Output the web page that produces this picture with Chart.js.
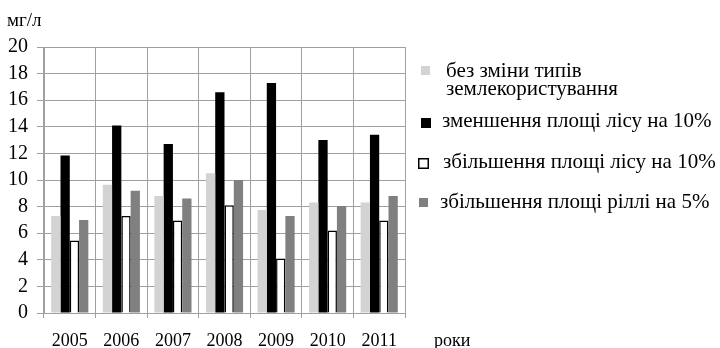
<!DOCTYPE html>
<html lang="uk">
<head>
<meta charset="utf-8">
<title>Концентрація, мг/л</title>
<script src="https://cdn.jsdelivr.net/npm/chart.js@4.4.1/dist/chart.umd.min.js"></script>
<style>
  html, body { margin: 0; padding: 0; background: #ffffff; }
  #wrap { width: 720px; height: 348px; position: relative; }
</style>
</head>
<body>
<div id="wrap"><canvas id="chart" width="720" height="348"></canvas></div>
<script>
// Роки спостережень
const years = ['2005', '2006', '2007', '2008', '2009', '2010', '2011'];

// Сценарії землекористування, мг/л
const noChange      = [7.3, 9.65, 8.8, 10.5, 7.75, 8.3, 8.3];
const forestMinus10 = [11.85, 14.1, 12.7, 16.6, 17.3, 13.0, 13.4];
const forestPlus10  = [5.45, 7.3, 6.95, 8.1, 4.1, 6.2, 6.95];
const arablePlus5   = [7.0, 9.2, 8.6, 10.0, 7.3, 8.05, 8.8];

const seriesNames = [
  ['без зміни типів', 'землекористування'],
  ['зменшення площі лісу на 10%'],
  ['збільшення площі лісу на 10%'],
  ['збільшення площі ріллі на 5%']
];

const unitLabel = 'мг/л';
const axisXLabel = 'роки';

const SERIF = '"Liberation Serif", "DejaVu Serif", serif';
const GRID = '#a0a0a0';

// Підписи осей та легенда малюються поверх області графіка
const annotations = {
  id: 'annotations',
  afterDraw(chart) {
    const ctx = chart.ctx;
    ctx.save();
    ctx.fillStyle = '#000';
    ctx.textBaseline = 'alphabetic';
    ctx.textAlign = 'left';

    ctx.font = '19px ' + SERIF;
    ctx.fillText(unitLabel, 7, 26);
    ctx.font = '18px ' + SERIF;
    ctx.fillText(axisXLabel, 434, 346);

    // легенда
    const items = [
      { box: [421, 66], size: 9, text: [446, 77] },
      { box: [421, 118], size: 10, text: [442, 127] },
      { box: [418, 158], size: 11, text: [443, 168] },
      { box: [419, 198], size: 9, text: [440, 208] }
    ];
    ctx.font = '21px ' + SERIF;
    chart.data.datasets.forEach((ds, i) => {
      const it = items[i];
      const [bx, by] = it.box;
      const s = it.size;
      ctx.fillStyle = ds.backgroundColor;
      ctx.fillRect(bx, by, s, s);
      if (ds.borderWidth) {
        ctx.strokeStyle = ds.borderColor;
        ctx.lineWidth = 1.5;
        ctx.strokeRect(bx + 0.75, by + 0.75, s - 1.5, s - 1.5);
      }
      ctx.fillStyle = '#000';
      const lines = Array.isArray(ds.label) ? ds.label : [ds.label];
      lines.forEach((ln, k) => ctx.fillText(ln, it.text[0], it.text[1] + k * 18));
    });
    ctx.restore();
  }
};

new Chart(document.getElementById('chart'), {
  type: 'bar',
  data: {
    labels: years,
    datasets: [
      { label: seriesNames[0], data: noChange, backgroundColor: '#d3d3d3', borderWidth: 0 },
      { label: seriesNames[1], data: forestMinus10, backgroundColor: '#000000', borderWidth: 0 },
      { label: seriesNames[2], data: forestPlus10, backgroundColor: '#ffffff', borderColor: '#000000', borderWidth: 1.5 },
      { label: seriesNames[3], data: arablePlus5, backgroundColor: '#808080', borderWidth: 0 }
    ]
  },
  options: {
    responsive: false,
    animation: false,
    events: [],
    layout: { padding: { top: 47, right: 315, bottom: 0, left: 0 } },
    datasets: { bar: { categoryPercentage: 0.72, barPercentage: 1.0 } },
    plugins: {
      legend: { display: false },
      title: { display: false },
      tooltip: { enabled: false }
    },
    scales: {
      x: {
        grid: { color: GRID, lineWidth: 1, tickLength: 5, offset: true },
        border: { color: GRID },
        ticks: { color: '#000', font: { family: SERIF, size: 18 }, padding: 12, maxRotation: 0 },
        afterFit(scale) { scale.height = 35; }
      },
      y: {
        min: 0, max: 20,
        grid: { color: GRID, lineWidth: 1, tickLength: 7 },
        border: { color: GRID },
        ticks: { stepSize: 2, autoSkip: false, color: '#000', font: { family: SERIF, size: 20 }, padding: 9 },
        afterFit(scale) { scale.width = 44; }
      }
    }
  },
  plugins: [annotations]
});
</script>
</body>
</html>
